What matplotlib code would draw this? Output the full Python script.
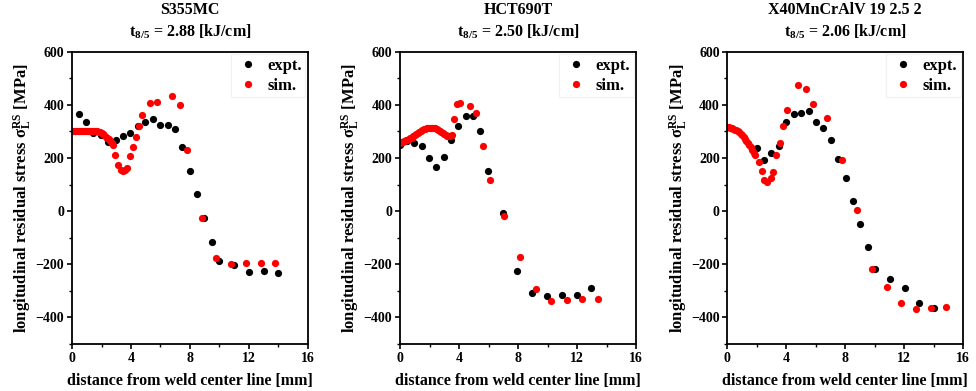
import matplotlib
matplotlib.use("Agg")
import matplotlib.pyplot as plt
from matplotlib.ticker import MultipleLocator

plt.rcParams['font.family'] = ['Liberation Serif', 'DejaVu Serif']
plt.rcParams['font.weight'] = 'bold'
plt.rcParams['mathtext.fontset'] = 'custom'
plt.rcParams['mathtext.rm'] = 'Liberation Serif:bold'
plt.rcParams['mathtext.it'] = 'Liberation Serif:italic:bold'
plt.rcParams['mathtext.bf'] = 'Liberation Serif:bold'

titles = ["S355MC", "HCT690T", "X40MnCrAlV 19 2.5 2"]
t85 = ["2.88", "2.50", "2.06"]

# Panel 1: S355MC
expt1_x = [0.48, 0.97, 1.45, 1.95, 2.47, 2.97, 3.47, 3.96, 4.49, 4.98, 5.48, 5.98, 6.48, 6.98,
           7.48, 7.97, 8.47, 8.97, 9.49, 9.99, 10.99, 12.01, 13.0, 14.0]
expt1_y = [366, 336, 294, 285, 262, 267, 281, 294, 322, 337, 347, 326, 325, 310,
           241, 152, 65, -25, -115, -187, -204, -228, -225, -231]
sim1_x = [0.0, 0.1, 0.2, 0.3, 0.4, 0.5, 0.6, 0.7, 0.8, 0.9, 1.0, 1.1, 1.2, 1.3, 1.4, 1.5,
          1.6, 1.7, 1.8, 1.9, 2.0, 2.1, 2.2, 2.3, 2.4, 2.5, 2.6, 2.7, 2.8,
          2.92, 3.13, 3.31, 3.47, 3.62, 3.76, 3.92, 4.12, 4.33, 4.53, 4.76, 5.28, 5.78,
          6.77, 7.32, 7.77, 8.79, 9.76, 10.78, 11.78, 12.78, 13.77]
sim1_y = [303, 303, 303, 303, 303, 302, 302, 302, 302, 302, 302, 302, 302, 302, 302, 302,
          301, 300, 298, 296, 293, 289, 285, 280, 275, 270, 265, 258, 250,
          212, 175, 156, 150, 156, 162, 207, 240, 280, 321, 360, 406, 411,
          435, 399, 230, -25, -178, -198, -195, -194, -194]

# Panel 2: HCT690T
expt2_x = [0.0, 0.48, 0.97, 1.47, 1.97, 2.47, 2.96, 3.46, 3.96, 4.46, 4.95, 5.45, 5.95,
           6.97, 7.94, 8.98, 9.98, 10.97, 11.97, 12.96]
expt2_y = [248, 264, 257, 244, 199, 165, 204, 269, 322, 357, 357, 300, 152,
           -8, -227, -309, -319, -317, -317, -290]
sim2_x = [0.0, 0.1, 0.2, 0.3, 0.4, 0.5, 0.6, 0.7, 0.8, 0.9, 1.0, 1.1, 1.2, 1.3, 1.4, 1.5,
          1.6, 1.7, 1.8, 1.9, 2.0, 2.1, 2.2, 2.3, 2.4, 2.5, 2.6, 2.7, 2.8, 2.9, 3.0,
          3.1, 3.2, 3.3, 3.4, 3.5,
          3.67, 3.85, 4.07, 4.75, 5.18, 5.66, 6.13, 7.08, 8.14, 9.19, 10.25, 11.31,
          12.35, 13.42]
sim2_y = [258, 260, 262, 264, 266, 268, 271, 274, 277, 281, 285, 289, 294, 298, 302, 305,
          308, 310, 312, 313, 314, 314, 314, 313, 311, 309, 306, 302, 298, 294, 290,
          286, 283, 282, 283, 288,
          345, 404, 408, 395, 371, 244, 116, -20, -171, -292, -337, -334,
          -331, -332]

# Panel 3: X40MnCrAlV 19 2.5 2
expt3_x = [2.0, 2.49, 2.99, 3.49, 3.99, 4.49, 4.99, 5.51, 6.01, 6.51, 7.01, 7.5, 8.03,
           8.53, 9.02, 9.52, 10.02, 11.02, 12.02, 13.02, 14.01]
expt3_y = [237, 194, 219, 245, 336, 364, 370, 375, 336, 314, 266, 195, 126,
           37, -49, -135, -219, -254, -289, -345, -364]
sim3_x = [0.0, 0.1, 0.2, 0.3, 0.4, 0.5, 0.6, 0.7, 0.8, 0.9, 1.0, 1.1, 1.2, 1.3, 1.4,
          1.5, 1.6, 1.7, 1.8, 1.9,
          2.13, 2.34, 2.52, 2.72, 2.93, 3.13, 3.33, 3.54, 3.81, 4.04, 4.78, 5.33, 5.80,
          6.78, 7.80, 8.78, 9.80, 10.80, 11.79, 12.79, 13.79, 14.81]
sim3_y = [316, 315, 314, 312, 310, 307, 304, 300, 296, 291, 286, 280, 273, 265, 257,
          249, 240, 230, 220, 210,
          185, 150, 119, 110, 126, 147, 211, 256, 320, 381, 475, 460, 405,
          351, 193, 5, -219, -284, -345, -369, -366, -361]

expts = [(expt1_x, expt1_y), (expt2_x, expt2_y), (expt3_x, expt3_y)]
sims = [(sim1_x, sim1_y), (sim2_x, sim2_y), (sim3_x, sim3_y)]

fig = plt.figure(figsize=(9.76, 3.91), dpi=100)
lefts = [72 / 976, 400 / 976, 727.3 / 976]
w = 236 / 976
bottom = 1 - 344 / 391
h = (344 - 51.7) / 391

for i in range(3):
    ax = fig.add_axes([lefts[i], bottom, w, h])
    ex, ey = expts[i]
    sx, sy = sims[i]
    ax.plot(ex, ey, 'o', color='black', markersize=5.2, markeredgewidth=0, label='expt.')
    ax.plot(sx, sy, 'o', color='#ff0000', markersize=5.2, markeredgewidth=0, label='sim.')
    ax.set_xlim(0, 16)
    ax.set_ylim(-500, 600)
    ax.xaxis.set_major_locator(MultipleLocator(4))
    ax.xaxis.set_minor_locator(MultipleLocator(2))
    ax.yaxis.set_major_locator(MultipleLocator(200))
    ax.yaxis.set_minor_locator(MultipleLocator(100))
    ax.tick_params(which='major', direction='out', length=3.5, width=1.2, labelsize=10,
                   top=False, right=False, pad=2)
    ax.tick_params(which='minor', direction='out', length=2, width=1.0, top=False, right=False)
    for lab in ax.get_xticklabels() + ax.get_yticklabels():
        lab.set_fontweight('bold')
    for sp in ax.spines.values():
        sp.set_linewidth(1.3)
    ax.set_xlabel('distance from weld center line [mm]', fontsize=11.5, fontweight='bold',
                  labelpad=6)
    ax.set_ylabel('longitudinal residual stress \u03c3$_\\mathrm{L}^\\mathrm{RS}$ [MPa]',
                  fontsize=12, fontweight='bold', labelpad=1)
    ax.set_title(titles[i] + '\n' + 't$_{8/5}$ = ' + t85[i] + ' [kJ/cm]',
                 fontsize=11.5, fontweight='bold', linespacing=1.35, pad=11)
    leg = ax.legend(loc='upper right', frameon=True, fancybox=False, edgecolor='#eeeeee',
                    prop={'weight': 'bold', 'size': 12}, handletextpad=0.4,
                    borderaxespad=0.15, labelspacing=0.25, handlelength=1.6,
                    borderpad=0.2)
    leg.get_frame().set_linewidth(0.8)

fig.savefig('out.png', dpi=100)
